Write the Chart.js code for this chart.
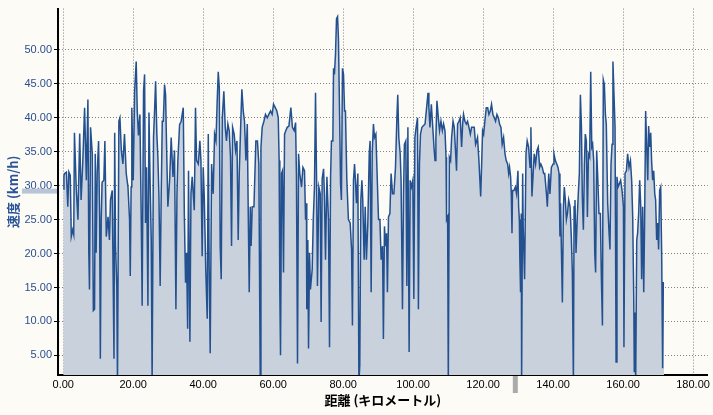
<!DOCTYPE html>
<html><head><meta charset="utf-8">
<script src="https://cdn.jsdelivr.net/npm/chart.js@4"></script>
<style>html,body{margin:0;padding:0;background:#fdfbf6;}</style>
</head><body>
<canvas id="c" width="713" height="415"></canvas>
<script>
const distanceKm = [
0.0,0.2,0.4,0.9,1.3,1.6,2.0,2.3,2.7,3.0,3.2,3.7,4.2,4.7,5.1,5.6,6.1,6.6,7.05,7.3,7.5,7.8,8.3,8.6,8.95,9.15,9.4,9.7,10.1,10.4,10.6,10.85,11.1,11.6,11.9,12.3,12.8,13.2,13.5,14.0,14.5,14.7,14.95,15.3,15.5,15.9,16.2,16.6,17.05,17.5,18.0,18.5,18.95,19.15,19.4,19.6,20.0,20.4,20.85,21.15,21.5,21.9,22.3,22.55,22.95,23.25,23.5,23.8,24.2,24.5,24.85,25.15,25.4,25.8,26.1,26.4,26.75,27.05,27.35,27.7,28.0,28.3,28.6,28.95,29.25,29.5,29.9,30.4,30.85,31.35,31.8,32.2,32.5,32.75,33.25,33.7,
34.3,34.6,34.95,35.25,35.55,35.8,36.2,36.5,36.85,37.45,37.8,38.1,38.6,39.05,39.35,39.7,40.0,40.3,40.75,41.15,41.45,41.7,42.0,42.4,42.85,43.25,43.65,44.0,44.3,44.6,44.85,45.15,45.45,45.9,46.3,46.65,47.05,47.45,47.8,48.1,48.4,48.85,49.25,49.65,50.0,50.3,50.75,51.05,51.45,51.8,52.2,52.6,52.85,53.15,53.45,53.7,54.0,54.5,55.05,55.5,55.9,56.3,56.5,56.85,57.35,57.8,58.3,58.75,59.25,59.7,60.1,60.6,61.05,61.45,61.7,61.9,62.1,62.4,62.65,62.95,63.25,63.6,64.0,64.5,65.05,65.5,66.0,66.4,66.65,66.95,67.25,67.6,68.1,
68.5,68.95,69.25,69.5,69.6,69.9,70.1,70.4,70.65,71.15,71.45,71.8,72.1,72.4,72.65,73.05,73.45,73.7,74.0,74.4,74.65,74.95,75.35,75.8,76.1,76.4,76.65,77.05,77.25,77.5,77.8,78.1,78.4,78.65,78.95,79.25,79.5,79.8,80.1,80.4,80.65,81.05,81.5,82.0,82.4,82.65,82.95,83.25,83.5,83.8,84.2,84.5,84.75,85.05,85.35,85.6,86.0,86.3,86.65,87.05,87.45,87.7,88.0,88.3,88.65,88.95,89.35,89.7,90.1,90.5,90.85,91.25,91.5,91.8,92.1,92.4,92.65,92.95,93.35,93.7,94.1,94.5,94.95,95.35,95.6,95.9,96.3,96.55,96.95,97.25,97.5,97.9,98.2,98.5,98.85,99.15,99.5,99.9,100.2,100.5,100.85,101.25,101.5,101.8,102.1,102.5,102.85,
103.4,103.85,104.25,104.5,104.8,105.2,105.55,105.95,106.25,106.5,106.8,107.2,107.55,107.95,108.35,108.7,109.1,109.4,109.55,109.85,110.05,110.35,110.7,111.0,111.4,111.75,112.15,112.4,112.7,113.1,113.45,113.85,114.15,114.4,114.8,115.2,115.55,115.95,116.35,116.7,117.1,117.45,117.85,118.15,118.4,118.8,119.3,119.55,119.85,120.15,120.5,120.9,121.3,121.65,122.05,122.4,122.8,123.2,123.55,123.95,124.35,124.7,125.1,125.45,125.85,126.25,126.6,127.0,127.3,127.55,127.85,128.05,128.25,128.4,128.8,129.2,129.55,129.95,130.15,130.35,130.5,130.7,130.9,131.0,131.3,131.45,131.85,132.25,132.6,133.0,133.4,133.65,133.95,134.25,134.6,135.0,135.4,135.75,136.15,136.5,136.9,137.3,
137.6,138.1,138.35,138.75,139.1,139.5,140.0,140.25,140.65,141.05,141.4,141.7,141.95,142.15,142.35,142.65,142.95,143.2,143.5,143.8,144.1,144.45,144.85,145.2,145.5,145.8,146.0,146.25,146.55,146.95,147.2,147.5,147.8,148.1,148.35,148.65,148.95,149.2,149.5,149.8,150.1,150.45,150.75,151.05,151.3,151.6,151.9,152.15,152.45,152.75,153.1,153.5,153.8,154.1,154.35,154.65,154.95,155.2,155.6,156.0,156.25,156.55,156.85,157.1,157.4,157.7,158.0,158.25,158.55,158.95,159.3,159.7,160.1,160.25,160.55,160.95,161.3,161.7,162.1,162.45,162.75,163.05,163.2,163.4,163.6,163.9,164.15,164.45,164.75,165.05,165.3,165.6,165.9,166.15,166.45,166.75,167.05,167.3,167.6,167.9,168.15,168.45,168.75,169.05,169.3,169.6,169.9,170.15,170.45,170.75,171.05,171.3,171.5,171.7
];
const speedKmh = [
29.5,31.5,31.8,32.0,26.9,32.0,31.5,22.5,23.5,22.8,37.8,29.8,25.0,37.7,27.9,33.7,41.5,30.8,42.7,20.3,14.7,38.6,34.7,11.6,11.8,34.7,20.1,31.8,36.6,25.0,4.5,25.0,30.5,30.8,36.6,22.5,25.4,22.0,27.9,29.3,4.5,37.8,21.1,15.2,1.0,39.5,40.0,35.2,33.2,37.6,31.8,29.8,25.0,16.7,29.8,41.5,30.8,43.9,48.3,41.0,37.4,40.5,25.0,12.3,43.9,46.4,24.5,32.7,12.3,40.8,29.8,22.0,1.0,37.1,41.0,45.4,37.6,34.2,28.4,15.2,28.8,39.5,39.5,44.9,43.4,36.6,26.9,30.8,37.1,31.3,35.2,11.8,28.8,33.7,39.0,39.5,
41.5,25.9,15.7,20.1,8.9,32.2,7.0,28.8,31.3,26.4,41.5,33.7,33.2,36.6,33.7,19.6,32.7,28.4,17.2,10.4,37.6,18.1,5.3,33.2,28.8,37.6,36.6,42.5,46.8,44.4,21.1,16.2,40.0,43.9,38.6,36.6,39.1,38.1,34.2,21.1,38.6,37.6,35.2,36.6,22.0,31.8,39.5,44.2,41.0,39.5,33.7,39.1,26.9,14.3,26.9,21.1,26.9,26.9,36.6,36.6,33.2,1.0,35.6,38.6,39.5,40.5,40.0,40.5,41.0,40.5,42.0,41.5,41.0,40.0,33.7,14.3,5.0,31.8,32.2,17.2,37.6,38.1,38.6,38.8,41.5,38.6,38.1,39.3,31.3,3.8,34.7,31.8,29.8,
32.7,32.2,25.0,27.4,11.8,22.0,6.0,20.1,14.7,17.7,25.0,29.8,43.7,30.8,15.2,29.8,28.8,9.9,31.0,32.5,28.4,19.1,31.3,25.0,6.2,31.3,36.6,36.6,47.3,46.4,49.3,54.6,54.9,51.7,41.5,30.3,27.9,47.3,46.4,41.0,41.0,30.8,25.0,24.5,20.6,9.4,30.8,33.2,30.8,27.4,31.8,1.0,3.5,27.9,30.8,27.9,19.1,26.9,19.1,24.5,34.7,36.6,14.3,34.7,39.1,37.1,37.6,31.8,25.0,25.0,19.1,21.1,7.4,24.0,21.1,23.0,14.3,25.4,25.9,31.8,28.8,28.8,32.7,40.0,43.4,37.1,34.7,30.8,11.8,28.8,36.1,36.6,15.2,38.6,5.5,30.8,29.8,30.8,13.3,37.1,38.6,40.0,11.8,33.2,37.6,38.6,38.8,
39.1,41.5,43.7,41.5,38.6,42.0,39.1,35.7,33.7,37.1,42.5,40.0,38.1,39.5,38.1,39.1,38.1,34.2,25.0,25.4,1.0,34.2,33.7,37.1,39.5,38.6,34.7,32.2,39.1,39.5,40.0,35.7,39.1,40.5,39.5,39.1,39.5,38.6,37.6,38.6,38.6,38.6,36.1,36.6,37.1,33.7,28.4,32.7,38.1,37.6,39.5,41.5,41.5,40.5,41.0,42.0,40.5,40.0,39.5,40.5,40.0,39.1,38.6,36.1,37.1,34.7,33.7,33.2,31.8,32.7,31.3,28.8,23.0,29.3,29.3,29.8,28.8,32.2,26.9,25.0,19.1,14.3,25.9,1.0,31.8,24.0,16.2,34.7,36.6,35.7,32.7,38.6,28.4,31.3,34.7,33.2,35.2,35.7,32.7,33.2,32.7,31.8,
31.8,28.8,26.9,31.8,28.8,32.7,33.2,34.7,33.7,33.2,32.7,31.8,22.5,27.4,21.1,12.8,26.9,29.8,27.9,25.0,25.9,27.9,26.9,22.5,17.2,1.0,26.9,27.9,20.1,25.9,28.8,31.8,43.4,38.6,28.4,23.5,33.2,37.6,36.6,25.4,34.7,34.2,46.8,35.7,36.1,33.7,20.1,17.2,35.2,31.3,25.9,25.9,16.2,9.4,45.6,44.9,40.5,39.1,27.4,23.0,20.6,33.2,36.1,48.3,43.4,38.6,4.0,31.3,29.8,30.3,30.8,29.3,26.9,6.2,31.8,32.2,34.7,32.7,33.7,30.8,25.4,13.3,2.6,11.3,1.0,22.0,23.0,25.9,30.8,26.9,16.2,26.9,14.3,24.5,41.0,35.7,30.8,38.8,35.7,37.8,33.7,30.8,32.2,28.8,27.9,22.0,24.5,20.6,29.3,29.8,19.1,3.1,15.7,15.7
];
const xTickValues = [0, 20, 40, 60, 80, 100, 120, 140, 160, 180];
const yTickValues = [5, 10, 15, 20, 25, 30, 35, 40, 45, 50];
const avgSpeedKmh = 29.2;
const markerDistanceKm = 129.2;

const points = distanceKm.map((d, i) => ({ x: d, y: speedKmh[i] }));
const tickFont = { family: 'Liberation Sans', size: 11 };

const bgPlugin = {
  id: 'bg',
  beforeDraw(chart) {
    const ctx = chart.ctx;
    ctx.save();
    ctx.fillStyle = '#fdfbf6';
    ctx.fillRect(0, 0, chart.width, chart.height);
    ctx.restore();
  }
};
const markerPlugin = {
  id: 'markers',
  afterDraw(chart) {
    const ctx = chart.ctx;
    const xs = chart.scales.x, ys = chart.scales.y;
    const ca = chart.chartArea;
    ctx.save();
    const py = ys.getPixelForValue(avgSpeedKmh);
    ctx.fillStyle = '#b9c5d7';
    ctx.fillRect(22, py - 2.5, ca.left - 23, 5);
    const px = xs.getPixelForValue(markerDistanceKm);
    ctx.fillStyle = '#aaaaaa';
    ctx.fillRect(px - 2.5, ca.bottom + 1, 5, 17);
    ctx.restore();
  }
};

new Chart(document.getElementById('c'), {
  type: 'line',
  data: {
    datasets: [{
      data: points,
      borderColor: '#23508f',
      backgroundColor: '#c9d1dd',
      borderWidth: 1.5,
      pointRadius: 0,
      tension: 0,
      fill: 'start'
    }]
  },
  options: {
    responsive: false,
    animation: false,
    devicePixelRatio: 1,
    layout: { padding: { top: 5, right: 5, left: 0, bottom: 0 } },
    plugins: { legend: { display: false }, tooltip: { enabled: false } },
    scales: {
      x: {
        type: 'linear',
        min: -1.5,
        max: 184.2,
        afterBuildTicks: s => { s.ticks = xTickValues.map(v => ({ value: v })); },
        afterFit: s => { s.height = 40; },
        ticks: { color: '#000', font: tickFont, padding: 3, maxRotation: 0, autoSkip: false,
                 callback: v => Number(v).toFixed(2) },
        grid: { color: '#808080', lineWidth: 1, drawTicks: false },
        border: { display: true, color: '#000', width: 2, dash: [1, 2] },
        title: { display: true, text: '距離 (キロメートル)', color: '#000',
                 font: { family: 'Noto Sans CJK JP', size: 13, weight: 'bold' },
                 padding: { top: 0, bottom: 7 } }
      },
      y: {
        type: 'linear',
        min: 2.1,
        max: 56.1,
        afterBuildTicks: s => { s.ticks = yTickValues.map(v => ({ value: v })); },
        afterFit: s => { s.width = 58; },
        ticks: { color: '#2b4f8e', font: tickFont, padding: 2,
                 callback: v => Number(v).toFixed(2) },
        grid: { color: '#808080', lineWidth: 1, drawTicks: true, tickLength: 4,
                tickColor: '#000', tickBorderDash: [] },
        border: { display: true, color: '#000', width: 2, dash: [1, 2] },
        title: { display: true, text: '速度 (km/h)', color: '#2b5597',
                 font: { family: 'Noto Sans CJK JP', size: 13, weight: 'bold' },
                 padding: { top: 5, bottom: 0 } }
      }
    }
  },
  plugins: [bgPlugin, markerPlugin]
});
</script>
</body></html>
